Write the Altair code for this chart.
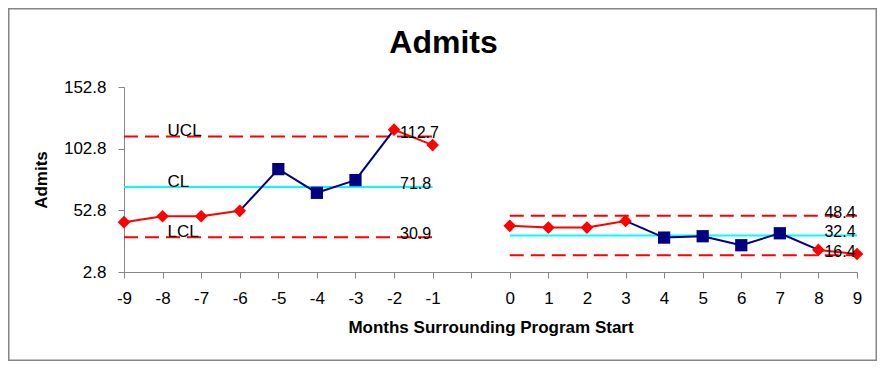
import altair as alt
import pandas as pd

# ---------------- data ----------------
months_pre = ["-9", "-8", "-7", "-6", "-5", "-4", "-3", "-2", "-1"]
admits_pre = [43.2, 48.0, 48.0, 52.4, 86.2, 67.0, 77.3, 118.2, 105.7]
signal_pre = [1, 1, 1, 1, 0, 0, 0, 1, 1]

months_post = ["0", "1", "2", "3", "4", "5", "6", "7", "8", "9"]
admits_post = [40.2, 38.8, 38.8, 44.2, 30.7, 31.8, 24.5, 34.2, 20.7, 17.4]
signal_post = [1, 1, 1, 1, 0, 0, 0, 0, 1, 1]

limit_names = ["UCL", "CL", "LCL"]
limits_pre = [112.7, 71.8, 30.9]
limits_post = [48.4, 32.4, 16.4]

x_categories = months_pre + [" "] + months_post
y_ticks = [2.8, 52.8, 102.8, 152.8]

FONT = "Liberation Sans"
RED = "#FF0000"
NAVY = "#000080"
CYAN = "#00FFFF"
GRAY = "#868686"

phases = [
    ("pre", months_pre, admits_pre, signal_pre, limits_pre),
    ("post", months_post, admits_post, signal_post, limits_post),
]

# points
pts = []
for ph, m, v, s, _ in phases:
    for mm, vv, ss in zip(m, v, s):
        pts.append({"phase": ph, "month": mm, "value": vv, "signal": ss})
points = pd.DataFrame(pts)

# connecting segments (colour: red if both ends are signal points)
segs = []
for ph, m, v, s, _ in phases:
    for i in range(len(m) - 1):
        col = "red" if (s[i] and s[i + 1]) else "navy"
        sid = f"{ph}{i}"
        segs.append({"seg": sid, "month": m[i], "value": v[i], "col": col, "order": 0})
        segs.append({"seg": sid, "month": m[i + 1], "value": v[i + 1], "col": col, "order": 1})
segments = pd.DataFrame(segs)

# control limits
lims = []
labs = []
for ph, m, v, s, L in phases:
    for name, val in zip(limit_names, L):
        gid = f"{ph}-{name}"
        lims.append({"gid": gid, "kind": name, "month": m[0], "value": val, "order": 0})
        lims.append({"gid": gid, "kind": name, "month": m[-1], "value": val, "order": 1})
        labs.append({"phase": ph, "kind": name, "month": m[-2], "value": val,
                     "txt": f"{val:.1f}", "namepos": m[1]})
limits = pd.DataFrame(lims)
labels = pd.DataFrame(labs)

# ---------------- encodings ----------------
x_scale = alt.Scale(type="point", domain=x_categories, padding=0)
x_enc = alt.X(
    "month:O",
    scale=x_scale,
    axis=alt.Axis(title="Months Surrounding Program Start", labelAngle=0,
                  titlePadding=13),
)
y_enc = alt.Y(
    "value:Q",
    scale=alt.Scale(domain=[2.8, 152.8], nice=False, zero=False),
    axis=alt.Axis(title="Admits", values=y_ticks, format=".1f", titlePadding=13),
)

base_lim = alt.Chart(limits)
dashed = base_lim.transform_filter(alt.datum.kind != "CL").mark_line(
    color=RED, strokeWidth=2, strokeDash=[14, 7]
).encode(x=x_enc, y=y_enc, detail="gid:N", order="order:Q")
center = base_lim.transform_filter(alt.datum.kind == "CL").mark_line(
    color=CYAN, strokeWidth=2
).encode(x=x_enc, y=y_enc, detail="gid:N", order="order:Q")

lines = alt.Chart(segments).mark_line(strokeWidth=2).encode(
    x=x_enc, y=y_enc, detail="seg:N", order="order:Q",
    color=alt.Color("col:N", scale=alt.Scale(domain=["red", "navy"], range=[RED, NAVY]),
                    legend=None),
)

diamonds = alt.Chart(points).transform_filter(alt.datum.signal == 1).mark_point(
    shape="diamond", filled=True, size=160, color=RED, opacity=1
).encode(x=x_enc, y=y_enc)
squares = alt.Chart(points).transform_filter(alt.datum.signal == 0).mark_point(
    shape="square", filled=True, size=150, color=NAVY, opacity=1
).encode(x=x_enc, y=y_enc)

value_text = alt.Chart(labels).mark_text(
    align="left", baseline="middle", dx=6, dy=-3, font=FONT, fontSize=16, color="black"
).encode(x=x_enc, y=y_enc, text="txt:N")

name_text = alt.Chart(labels).transform_filter(alt.datum.phase == "pre").mark_text(
    align="left", baseline="alphabetic", dx=5, dy=0, font=FONT, fontSize=17, color="black"
).encode(x=alt.X("namepos:O", scale=x_scale), y=y_enc, text="kind:N")

border = alt.Chart(pd.DataFrame({"a": [0]})).mark_rect(
    fill=None, stroke=GRAY, strokeWidth=1.5
).encode(x=alt.value(-115.25), x2=alt.value(733 + 19.25),
         y=alt.value(-78.25), y2=alt.value(185 + 88.25))

chart = alt.layer(
    border, dashed, center, lines, diamonds, squares, value_text, name_text
).properties(
    width=733,
    height=185,
    background="white",
    title=alt.TitleParams("Admits", font=FONT, fontSize=32, fontWeight="bold",
                          anchor="middle", frame="group", dx=-47, dy=33,
                          baseline="alphabetic", offset=-44, color="black"),
    autosize=alt.AutoSizeParams(type="none"),
    padding={"left": 116, "top": 79, "right": 20, "bottom": 89},
).configure_view(stroke=None).configure_axis(
    grid=False, domainColor=GRAY, tickColor=GRAY, tickSize=6, domainWidth=1,
    labelFont=FONT, labelFontSize=17, labelColor="black", labelPadding=12,
    titleFont=FONT, titleFontSize=17, titleFontWeight="bold", titleColor="black",
)

chart.save("out.html", embed_options={"renderer": "svg", "actions": False})
